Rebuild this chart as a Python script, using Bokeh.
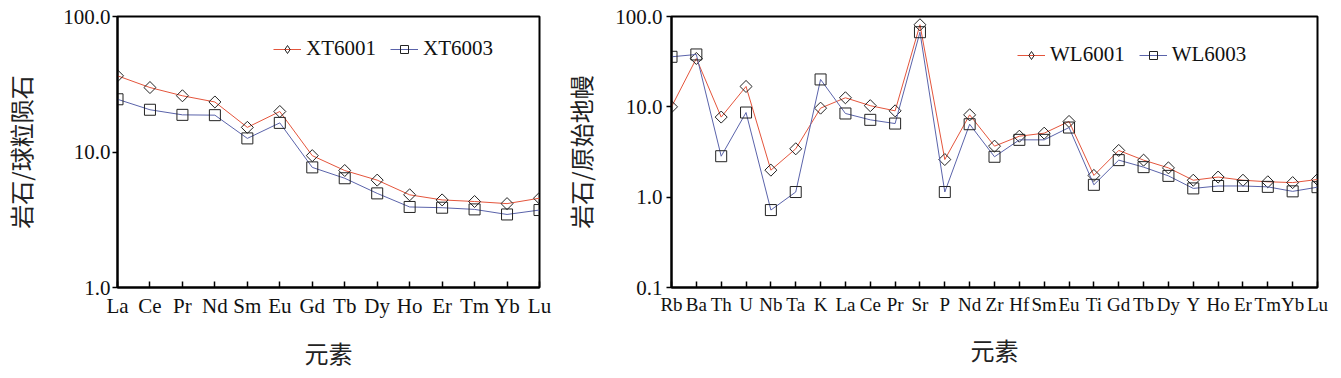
from bokeh.plotting import figure
from bokeh.layouts import row
from bokeh.models import (Range1d, FixedTicker, CustomJSTickFormatter, Legend, LegendItem)
from bokeh.embed import file_html
from bokeh.resources import INLINE
import math

# ---- data ----
ree_elements = ["La", "Ce", "Pr", "Nd", "Sm", "Eu", "Gd", "Tb", "Dy", "Ho", "Er", "Tm", "Yb", "Lu"]
xt6001 = [36.5, 29.9, 26.0, 23.4, 15.2, 19.9, 9.4, 7.3, 6.2, 4.83, 4.43, 4.31, 4.16, 4.56]
xt6003 = [24.5, 20.5, 18.8, 18.7, 12.6, 16.4, 7.7, 6.4, 4.95, 3.93, 3.88, 3.77, 3.46, 3.73]

spider_elements = ["Rb", "Ba", "Th", "U", "Nb", "Ta", "K", "La", "Ce", "Pr", "Sr", "P", "Nd", "Zr",
                   "Hf", "Sm", "Eu", "Ti", "Gd", "Tb", "Dy", "Y", "Ho", "Er", "Tm", "Yb", "Lu"]
wl6001 = [10.0, 34.3, 7.7, 16.8, 1.99, 3.43, 9.67, 12.6, 10.3, 9.03, 81.0, 2.61, 8.15, 3.67,
          4.73, 5.11, 6.89, 1.74, 3.29, 2.57, 2.11, 1.54, 1.67, 1.54, 1.48, 1.45, 1.57]
wl6003 = [35.8, 38.0, 2.84, 8.65, 0.72, 1.14, 20.1, 8.44, 7.18, 6.53, 67.0, 1.14, 6.42, 2.80,
          4.31, 4.31, 5.9, 1.37, 2.57, 2.15, 1.72, 1.25, 1.33, 1.33, 1.30, 1.16, 1.29]

left_ylabel = "岩石/球粒陨石"
right_ylabel = "岩石/原始地幔"
xlabel = "元素"
left_y_ticks = [1, 10, 100]
right_y_ticks = [0.1, 1, 10, 100]

RED = "#e4553c"
BLUE = "#5a63aa"
SERIF = "Liberation Serif"
CJK = "Noto Sans CJK SC"


def make_fig(cats, s1, s2, names, yr, yticks, ylabel, width, mb_left, mb_right,
             x_font, leg_loc, y_std, ylab_std):
    p = figure(width=width, height=378, y_axis_type="log",
               x_range=Range1d(0, len(cats) - 1), y_range=Range1d(*yr),
               output_backend="svg", toolbar_location=None,
               min_border_left=mb_left, min_border_right=mb_right,
               min_border_top=16, min_border_bottom=91)
    p.xgrid.visible = False
    p.ygrid.visible = False
    p.outline_line_color = "black"
    p.outline_line_width = 2
    p.background_fill_color = "white"
    p.border_fill_color = "white"

    xs = list(range(len(cats)))
    l1 = p.line(xs, s1, line_color=RED, line_width=1)
    p.scatter(xs, s1, marker="square", angle=math.pi / 4, size=8.5,
              line_color="#222222", fill_alpha=0, line_width=1)
    l2 = p.line(xs, s2, line_color=BLUE, line_width=1)
    p.scatter(xs, s2, marker="square", size=11,
              line_color="#222222", fill_alpha=0, line_width=1)
    # hidden glyphs used only for the legend swatches
    k1 = p.scatter(xs, s1, marker="diamond", size=11, visible=False,
                   line_color="#222222", fill_alpha=0, line_width=1)
    k2 = p.scatter(xs, s2, marker="square", size=8, visible=False,
                   line_color="#222222", fill_alpha=0, line_width=1)

    # x axis
    xa = p.xaxis[0]
    xa.ticker = FixedTicker(ticks=xs)
    xa.major_label_overrides = {i: c for i, c in enumerate(cats)}
    xa.minor_tick_line_color = None
    xa.major_tick_in = 6
    xa.major_tick_out = 0
    xa.axis_line_width = 2
    xa.major_tick_line_width = 1.5
    xa.major_label_text_font = SERIF
    xa.major_label_text_font_size = x_font
    xa.major_label_text_color = "#111111"
    xa.major_label_standoff = 6
    xa.axis_label = xlabel
    xa.axis_label_text_font = CJK
    xa.axis_label_text_font_style = "normal"
    xa.axis_label_text_font_size = "24px"
    xa.axis_label_text_color = "#222222"
    xa.axis_label_standoff = 14

    # y axis
    ya = p.yaxis[0]
    ya.ticker = FixedTicker(ticks=yticks, minor_ticks=[])
    ya.formatter = CustomJSTickFormatter(code="return tick.toFixed(1);")
    ya.minor_tick_line_color = None
    ya.major_tick_in = 0
    ya.major_tick_out = 5
    ya.axis_line_width = 2
    ya.major_tick_line_width = 1.5
    ya.major_label_text_font = SERIF
    ya.major_label_text_font_size = "21px"
    ya.major_label_text_color = "#111111"
    ya.major_label_standoff = y_std
    ya.axis_label = ylabel
    ya.axis_label_text_font = CJK
    ya.axis_label_text_font_style = "normal"
    ya.axis_label_text_font_size = "24px"
    ya.axis_label_text_color = "#222222"
    ya.axis_label_standoff = ylab_std

    leg = Legend(items=[LegendItem(label=names[0], renderers=[l1, k1]),
                        LegendItem(label=names[1], renderers=[l2, k2])],
                 location=leg_loc, orientation="horizontal",
                 border_line_alpha=0, background_fill_alpha=0,
                 inactive_fill_alpha=0,
                 label_text_font=SERIF, label_text_font_size="21px",
                 label_text_color="#111111",
                 glyph_width=28, glyph_height=20, label_standoff=5,
                 spacing=14, padding=0, margin=0)
    p.add_layout(leg)
    return p


p1 = make_fig(ree_elements, xt6001, xt6003, ["XT6001", "XT6003"], (1, 100), left_y_ticks,
              left_ylabel, 560, 116, 21, "21px", (156, 226), 2, 22)
p2 = make_fig(spider_elements, wl6001, wl6003, ["WL6001", "WL6003"], (0.1, 100), right_y_ticks,
              right_ylabel, 781, 107, 24, "19px", (346, 220), 4, 14)

layout = row(p1, p2)
open("out.html", "w").write(file_html(layout, INLINE))
